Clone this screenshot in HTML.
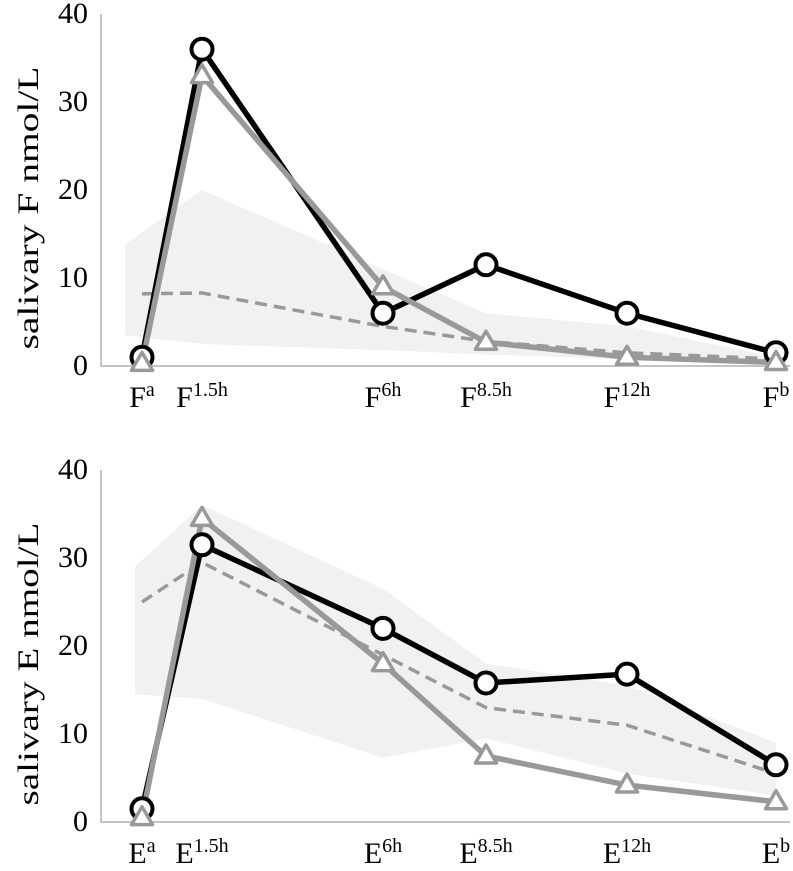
<!DOCTYPE html>
<html><head><meta charset="utf-8"><style>
html,body{margin:0;padding:0;background:#fff;}
svg{display:block;font-family:"Liberation Serif",serif;}
</style></head><body>
<svg id="chart" width="793" height="871"></svg>
<script>
const catsF = ["F","F","F","F","F","F"];
const catsE = ["E","E","E","E","E","E"];
const sups = ["a","1.5h","6h","8.5h","12h","b"];
const catX = [142, 202, 383, 486, 627, 776];
const yTicks = [0,10,20,30,40];
const blackF = [1, 36, 6, 11.5, 6, 1.5];
const greyF = [0.3, 33, 9, 2.7, 1, 0.4];
const meanF = [8.2, 8.3, 4.5, 2.8, 1.5, 0.8];
const bandHiF = [13.8, 20, 11, 6, 4.5, 1];
const bandLoF = [3.5, 2.5, 1.8, 1.3, 0.8, 0.3];
const blackE = [1.5, 31.5, 22, 15.8, 16.8, 6.5];
const greyE = [0.5, 34.5, 18, 7.5, 4.2, 2.3];
const meanE = [25, 29.5, 19, 13, 11, 5.5];
const bandHiE = [29, 36, 26.5, 18, 15.5, 9];
const bandLoE = [14.5, 14, 7.3, 9.5, 5.5, 3];

const NS="http://www.w3.org/2000/svg";
const svg=document.getElementById('chart');
function mk(t,a,p){const e=document.createElementNS(NS,t);for(const k in a)e.setAttribute(k,a[k]);(p||svg).appendChild(e);return e;}

function panel(top, cats, title, black, grey, mean, hi, lo, bandStartX, name){
  const g=mk('g',{});
  
  
  const y0=top+352, yScale=v=>y0-v*8.8;
  const xScale=i=>catX[i];
  let pts=[];
  hi.forEach((v,i)=>pts.push([(i==0?bandStartX:xScale(i)),yScale(v)]));
  for(let i=lo.length-1;i>=0;i--)pts.push([(i==0?bandStartX:xScale(i)),yScale(lo[i])]);
  const band=mk('polygon',{points:pts.map(p=>p.join(',')).join(' '),fill:'#f1f1f1'},g);
  
  
  const ax=mk('path',{d:`M101,${top} V${y0} H790`,stroke:'#888',fill:'none','stroke-width':1},g);
  
  
  yTicks.forEach(t=>{
    const tx=mk('text',{x:88,y:yScale(t)+9,'text-anchor':'end','font-size':30,fill:'#000'},g);
    tx.textContent=t;
    
    
  });
  cats.forEach((c,i)=>{
    const tx=mk('text',{x:xScale(i),y:y0+41,'text-anchor':'middle','font-size':30,fill:'#000'},g);
    
    
    tx.appendChild(document.createTextNode(c));
    const s=mk('tspan',{'font-size':20,dy:-11},tx);s.textContent=sups[i];
  });
  const yt=mk('text',{x:0,y:0,'text-anchor':'middle','font-size':30,fill:'#000',textLength:283,lengthAdjust:'spacingAndGlyphs',transform:`translate(38,${top+194}) rotate(-90)`},g);
  yt.textContent=title;
  
  
  const line=(arr,col,w,dash)=>mk('polyline',{points:arr.map((v,i)=>xScale(i)+','+yScale(v)).join(' '),fill:'none',stroke:col,'stroke-width':w,'stroke-dasharray':dash||'none','stroke-linejoin':'round'},g);
  const m=line(mean,'#999',3.5,'12,7');
  
  
  const b=line(black,'#000',5.5);
  
  
  const gr=line(grey,'#999',5.5);
  
  
  black.forEach((v,i)=>{
    const c=mk('circle',{cx:xScale(i),cy:yScale(v),r:10.5,fill:'#fff',stroke:'#000','stroke-width':4},g);
    
    
  });
  grey.forEach((v,i)=>{
    const x=xScale(i),y=yScale(v);
    const p=mk('polygon',{points:`${x},${y-11} ${x+10.5},${y+7} ${x-10.5},${y+7}`,fill:'#fff',stroke:'#999','stroke-width':3.5,'stroke-linejoin':'round'},g);
    
    
  });
}
panel(14, catsF, 'salivary F nmol/L', blackF, greyF, meanF, bandHiF, bandLoF, 125, 'cortisol-panel');
panel(470, catsE, 'salivary E nmol/L', blackE, greyE, meanE, bandHiE, bandLoE, 135, 'cortisone-panel');
</script>
</body></html>
